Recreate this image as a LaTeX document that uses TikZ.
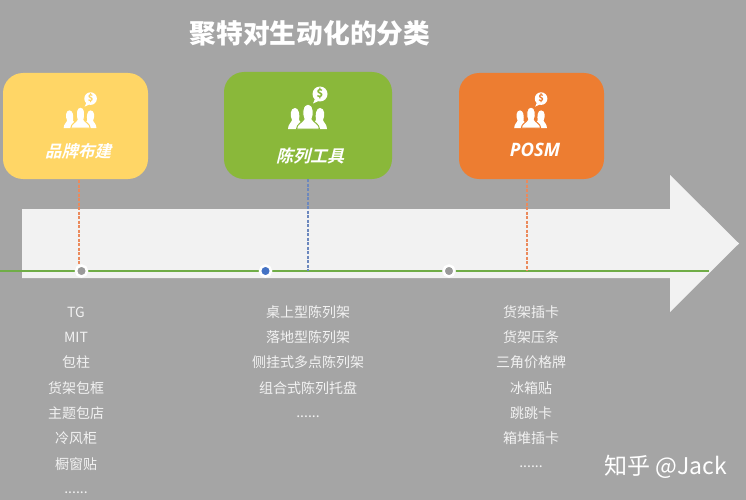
\documentclass[tikz,border=0pt]{standalone}
\usepackage{fontspec}
\setmainfont{Noto Sans CJK SC}
\newfontfamily\cjkit[FakeSlant=0.25,BoldFont={Noto Sans CJK SC Bold}]{Noto Sans CJK SC}
\newfontfamily\latit{Open Sans}
\definecolor{bgc}{HTML}{A5A5A5}
\definecolor{yelc}{HTML}{FFD666}
\definecolor{grnc}{HTML}{8AB83A}
\definecolor{orgc}{HTML}{ED7D31}
\definecolor{arrc}{HTML}{F2F2F2}
\definecolor{linec}{HTML}{70AD47}
\definecolor{txtc}{HTML}{F2F2F2}
\definecolor{bluec}{HTML}{4472C4}
\definecolor{dotg}{HTML}{9A9A9A}
\definecolor{leadorg}{HTML}{EB8A5C}
\definecolor{leadblu}{HTML}{6C88BE}
\tikzset{
  x=1pt,y=-1pt,
  card/.style={rectangle,rounded corners=20pt,inner sep=0pt,outer sep=0pt,fill=#1},
  cardlabel/.style={text=white,inner sep=0pt,font=\fontsize{#1}{#1}\selectfont\cjkit\bfseries},
  listitem/.style={text=txtc,inner sep=0pt,font=\fontsize{14}{14}\selectfont},
  leader/.style={dash pattern=on 3pt off 1.5pt,line width=1.2pt,draw=#1},
  tick/.style={circle,fill=#1,draw=white,line width=2.5pt,minimum size=11pt,inner sep=0pt},
  pics/moneygroup/.style={code={
    \fill[white] (-20,0) .. controls (-20,-5) and (-16,-7) .. (-16,-9)
      .. controls (-18,-13) and (-18,-21) .. (-13,-21)
      .. controls (-9,-21) and (-8,-14) .. (-9,-9) -- (-6,-5) -- (-6,0) -- cycle;
    \fill[white] (19,0) .. controls (19,-5) and (15,-7) .. (15,-9)
      .. controls (17,-13) and (17,-21) .. (12,-21)
      .. controls (8,-21) and (7,-14) .. (8,-9) -- (5,-5) -- (5,0) -- cycle;
    \filldraw[fill=white,draw=#1,line width=1pt] (-11.5,0) .. controls (-11.5,-5) and (-5,-7) .. (-4,-10)
      .. controls (-6,-14) and (-6,-25) .. (0,-25)
      .. controls (6,-25) and (6,-14) .. (4,-10)
      .. controls (5,-7) and (11.5,-5) .. (11.5,0) -- cycle;
    \fill[white] (12,-35) circle[radius=7.5];
    \fill[white] (7,-30) -- (5,-25.5) -- (10.5,-28) -- cycle;
    \node[text=#1,inner sep=0pt,transform shape,font=\fontsize{11}{11}\selectfont\bfseries] at (12,-35) {\$};
  }},
}
\begin{document}
\begin{tikzpicture}
\useasboundingbox (0,0) rectangle (746,500);
\fill[bgc] (0,0) rectangle (746,500);
% arrow
\fill[arrc] (22,209) -- (670,209) -- (670,175) -- (739,243.5) -- (670,312) -- (670,278) -- (22,278) -- cycle;
% title
\node[text=white,inner sep=0pt,font=\fontsize{26.7}{27}\selectfont\bfseries] (title) at (310,33.5) {聚特对生动化的分类};
% cards
\node[card=yelc,minimum width=145pt,minimum height=106pt] (brand) at (75.5,126) {};
\node[card=grnc,minimum width=168pt,minimum height=107pt] (display) at (308,125.5) {};
\node[card=orgc,minimum width=145pt,minimum height=106pt] (posm) at (531.5,126) {};
\pic[scale=.84] at (80.5,128) {moneygroup=yelc};
\pic at (308,129) {moneygroup=grnc};
\pic[scale=.84] at (531,128) {moneygroup=orgc};
\node[cardlabel=16.5] (brandt) at (78,151) {品牌布建};
\node[cardlabel=17] (displayt) at (310,156) {陈列工具};
\node[text=white,inner sep=0pt,font=\fontsize{18.5}{18.5}\selectfont\latit\bfseries\itshape] (posmt) at (535,150) {POSM};
% timeline
\coordinate (lineL) at (0,271);
\coordinate (lineR) at (709,271);
\coordinate (brandfoot) at (79,180);
\coordinate (posmfoot) at (527,180);
\draw[draw=linec,line width=1.3pt] (lineL) -- (lineR);
\node[tick=dotg] (d1) at (81.5,271) {};
\node[tick=bluec] (d2) at (265.5,271) {};
\node[tick=dotg] (d3) at (449,271) {};
\draw[leader=leadorg] (brandfoot) -- (brandfoot |- d1.north);
\draw[leader=leadblu] (display.south) -- (display.south |- lineL);
\draw[leader=leadorg] (posmfoot) -- (posmfoot |- lineL);
% lists
\node[listitem] (a1) at (76,312) {TG};
\node[listitem] (a2) at (76,337) {MIT};
\node[listitem] (a3) at (76,362) {包柱};
\node[listitem] (a4) at (76,388) {货架包框};
\node[listitem] (a5) at (76,413) {主题包店};
\node[listitem] (a6) at (76,438) {冷风柜};
\node[listitem] (a7) at (76,464) {橱窗贴};
\node[listitem] (a8) at (76,493) {......};
\node[listitem] (b1) at (308,312) {桌上型陈列架};
\node[listitem] (b2) at (308,337) {落地型陈列架};
\node[listitem] (b3) at (308,362) {侧挂式多点陈列架};
\node[listitem] (b4) at (308,388) {组合式陈列托盘};
\node[listitem] (b5) at (308,417) {......};
\node[listitem] (c1) at (531,312) {货架插卡};
\node[listitem] (c2) at (531,337) {货架压条};
\node[listitem] (c3) at (531,362) {三角价格牌};
\node[listitem] (c4) at (531,388) {冰箱贴};
\node[listitem] (c5) at (531,413) {跳跳卡};
\node[listitem] (c6) at (531,438) {箱堆插卡};
\node[listitem] (c7) at (531,467) {......};
% watermark
\node[text=white,inner sep=0pt,font=\fontsize{23}{23}\selectfont] (mark) at (665.5,467) {知乎 @Jack};
\end{tikzpicture}
\end{document}
